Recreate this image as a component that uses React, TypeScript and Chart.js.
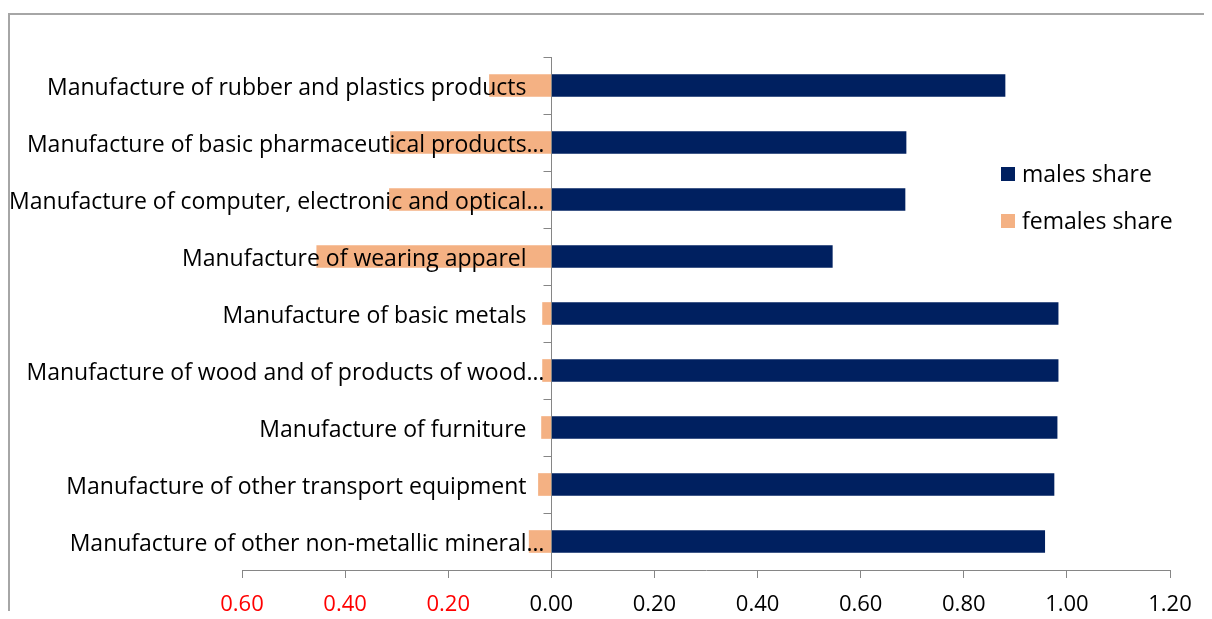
import React, { useEffect, useRef } from "react";
import { Chart, registerables } from "chart.js";

Chart.register(...registerables);

// Industry categories (top to bottom); long names are shortened with an ellipsis
const categories = [
  "Manufacture of rubber and plastics products",
  "Manufacture of basic pharmaceutical products…",
  "Manufacture of computer, electronic and optical…",
  "Manufacture of wearing apparel",
  "Manufacture of basic metals",
  "Manufacture of wood and of products of wood…",
  "Manufacture of furniture",
  "Manufacture of other transport equipment",
  "Manufacture of other non-metallic mineral…",
];

// Share of employees by sex in each industry
const malesShare = [0.88, 0.688, 0.686, 0.545, 0.983, 0.983, 0.981, 0.975, 0.957];
const femalesShare = [0.12, 0.312, 0.314, 0.455, 0.017, 0.017, 0.019, 0.025, 0.043];

const seriesNames = ["males share", "females share"];

// Axis range and tick step
const axisMin = -0.6;
const axisMax = 1.2;
const axisStep = 0.2;

const FONT = "'Open Sans', Lato, sans-serif";
const LABEL_SIZE = 23;
const TICK_SIZE = 22;
const MALE_COLOR = "#002060";
const FEMALE_COLOR = "#F4B183";
const AXIS_COLOR = "#868686";

const overlayPlugin = {
  id: "pyramidOverlay",
  afterDatasetsDraw(chart: any) {
    const { ctx, chartArea, scales } = chart;
    const x = scales.x;
    const y = scales.y;
    const zero = Math.round(x.getPixelForValue(0)) + 0.5;

    ctx.save();
    // zero axis with category tick marks
    ctx.strokeStyle = AXIS_COLOR;
    ctx.lineWidth = 1;
    ctx.beginPath();
    ctx.moveTo(zero, chartArea.top);
    ctx.lineTo(zero, chartArea.bottom);
    const bounds: number[] = [chartArea.top];
    for (let i = 0; i < categories.length - 1; i++) {
      bounds.push((y.getPixelForValue(i) + y.getPixelForValue(i + 1)) / 2);
    }
    bounds.push(chartArea.bottom);
    bounds.forEach((b) => {
      const yy = Math.round(b) + 0.5;
      ctx.moveTo(zero - 8, yy);
      ctx.lineTo(zero, yy);
    });
    ctx.stroke();

    // category labels, right-aligned next to the zero axis;
    // shortened names run their ellipsis closer to the axis
    ctx.fillStyle = "#000000";
    ctx.font = `${LABEL_SIZE}px ${FONT}`;
    ctx.textAlign = "right";
    ctx.textBaseline = "middle";
    categories.forEach((c, i) => {
      const gap = c.endsWith("…") ? 7 : 25;
      ctx.fillText(c, zero - gap, y.getPixelForValue(i) + 3);
    });
    ctx.restore();
  },
  afterDraw(chart: any) {
    const { ctx, width } = chart;
    ctx.save();
    // legend
    const colors = [MALE_COLOR, FEMALE_COLOR];
    ctx.font = `${LABEL_SIZE}px ${FONT}`;
    ctx.textAlign = "left";
    ctx.textBaseline = "middle";
    seriesNames.forEach((name, i) => {
      const cy = 166 + i * 47;
      ctx.fillStyle = colors[i];
      ctx.fillRect(993, cy - 7, 14, 14);
      ctx.fillStyle = "#000000";
      ctx.fillText(name, 1014, cy + 1);
    });
    // outer frame
    ctx.strokeStyle = "#a6a6a6";
    ctx.lineWidth = 2;
    ctx.strokeRect(1, 6, width - 4, 700);
    ctx.restore();
  },
};

export default function App() {
  const canvasRef = useRef<HTMLCanvasElement | null>(null);

  useEffect(() => {
    const canvas = canvasRef.current;
    if (!canvas) return;
    const chart = new Chart(canvas, {
      type: "bar",
      data: {
        labels: categories,
        datasets: [
          {
            label: seriesNames[0],
            data: malesShare,
            backgroundColor: MALE_COLOR,
            barThickness: 22,
          },
          {
            label: seriesNames[1],
            data: femalesShare.map((v) => -v),
            backgroundColor: FEMALE_COLOR,
            barThickness: 22,
          },
        ],
      },
      options: {
        indexAxis: "y",
        responsive: false,
        animation: false,
        layout: { padding: { left: 234, right: 42, top: 49, bottom: 0 } },
        plugins: {
          legend: { display: false },
          tooltip: { enabled: false },
        },
        scales: {
          x: {
            stacked: true,
            min: axisMin,
            max: axisMax,
            ticks: {
              stepSize: axisStep,
              padding: 14,
              font: { family: FONT, size: TICK_SIZE },
              color: (c: any) => (c.tick && c.tick.value < -1e-9 ? "#FF0000" : "#000000"),
              callback: (v: any) => Math.abs(Number(v)).toFixed(2),
            },
            grid: {
              drawOnChartArea: false,
              drawTicks: true,
              tickLength: 8,
              color: AXIS_COLOR,
            },
            border: { display: true, color: AXIS_COLOR },
            afterFit: (s: any) => {
              s.height = 49;
            },
          },
          y: {
            stacked: true,
            display: false,
          },
        },
      },
      plugins: [overlayPlugin],
    });
    return () => chart.destroy();
  }, []);

  return (
    <div style={{ width: 1204, height: 603 }}>
      <canvas ref={canvasRef} width={1204} height={611} style={{ display: "block" }} />
    </div>
  );
}
